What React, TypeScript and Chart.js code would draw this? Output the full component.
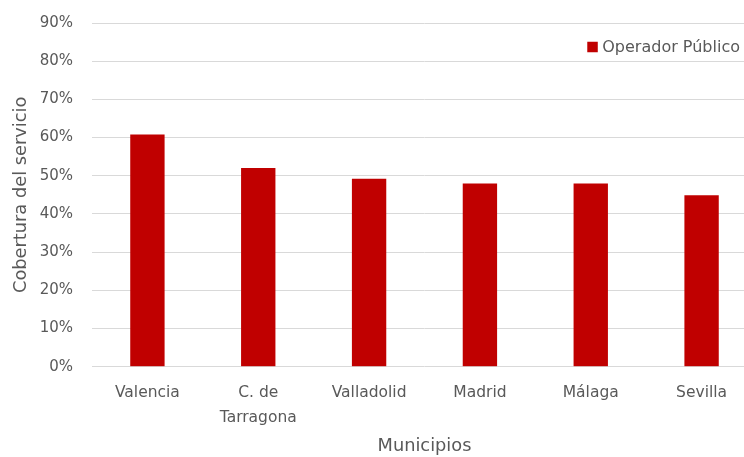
import React, { useEffect, useRef } from "react";
import { Chart, registerables } from "chart.js";

Chart.register(...registerables);

const categories: (string | string[])[] = ["Valencia", ["C. de", "Tarragona"], "Valladolid", "Madrid", "Málaga", "Sevilla"];
const seriesLabel = "Operador Público";
const coverage = [0.608, 0.52, 0.492, 0.48, 0.48, 0.449];
const yTickMax = 0.9;
const yTickStep = 0.1;
const yAxisTitle = "Cobertura del servicio";
const xAxisTitle = "Municipios";

const BAR_COLOR = "#C00000";
const TEXT_COLOR = "#595959";
const GRID_COLOR = "#D9D9D9";
const FONT = "'DejaVu Sans', sans-serif";

const legendPlugin = {
  id: "insideLegend",
  afterDraw(chart: any) {
    const ctx = chart.ctx;
    const ds = chart.data.datasets[0];
    ctx.save();
    ctx.font = `16px ${FONT}`;
    const textRight = 740;
    const w = ctx.measureText(ds.label).width;
    const textX = textRight - w;
    const cy = 47;
    const box = 10.5;
    ctx.fillStyle = ds.backgroundColor;
    ctx.fillRect(textX - 4.5 - box, cy - box / 2, box, box);
    ctx.fillStyle = TEXT_COLOR;
    ctx.textBaseline = "middle";
    ctx.textAlign = "left";
    ctx.fillText(ds.label, textX, cy + 1);
    ctx.restore();
  },
};

export default function App() {
  const ref = useRef<HTMLCanvasElement | null>(null);

  useEffect(() => {
    if (!ref.current) return;
    const chart = new Chart(ref.current, {
      type: "bar",
      data: {
        labels: categories as any,
        datasets: [
          {
            label: seriesLabel,
            data: coverage,
            backgroundColor: BAR_COLOR,
            borderWidth: 0,
            categoryPercentage: 1,
            barPercentage: 0.31,
          },
        ],
      },
      options: {
        responsive: false,
        animation: false,
        devicePixelRatio: 1,
        layout: { padding: { top: 23, right: 0, bottom: 0, left: 0 } },
        plugins: {
          legend: { display: false },
          tooltip: { enabled: false },
        },
        scales: {
          x: {
            grid: { display: false, drawTicks: false },
            border: { display: false },
            ticks: {
              color: TEXT_COLOR,
              font: { family: FONT, size: 15.5, lineHeight: 1.61 },
              padding: 14,
              maxRotation: 0,
              autoSkip: false,
            },
            title: {
              display: true,
              text: xAxisTitle,
              color: TEXT_COLOR,
              font: { family: FONT, size: 17.8 },
              padding: { top: 0, bottom: 0 },
            },
            afterFit: (scale: any) => {
              scale.height = 90.3;
            },
          },
          y: {
            min: 0,
            max: yTickMax,
            grid: { color: GRID_COLOR, lineWidth: 1, drawTicks: false },
            border: { display: false },
            ticks: {
              stepSize: yTickStep,
              color: TEXT_COLOR,
              font: { family: FONT, size: 15 },
              padding: 19,
              callback: (v: any) => `${Math.round(Number(v) * 100)}%`,
            },
            title: {
              display: true,
              text: yAxisTitle,
              color: TEXT_COLOR,
              font: { family: FONT, size: 17.8 },
              padding: { top: 11, bottom: 0 },
            },
            afterFit: (scale: any) => {
              scale.width = 92;
              scale.paddingTop = 0;
              scale.paddingBottom = 0;
            },
          },
        },
      },
      plugins: [legendPlugin],
    });
    return () => chart.destroy();
  }, []);

  return (
    <div
      style={{
        position: "absolute",
        left: 0,
        top: 0,
        width: 744,
        height: 457,
        overflow: "hidden",
        background: "#fff",
      }}
    >
      <canvas ref={ref} width={757} height={457} style={{ width: 757, height: 457, display: "block" }} />
    </div>
  );
}
